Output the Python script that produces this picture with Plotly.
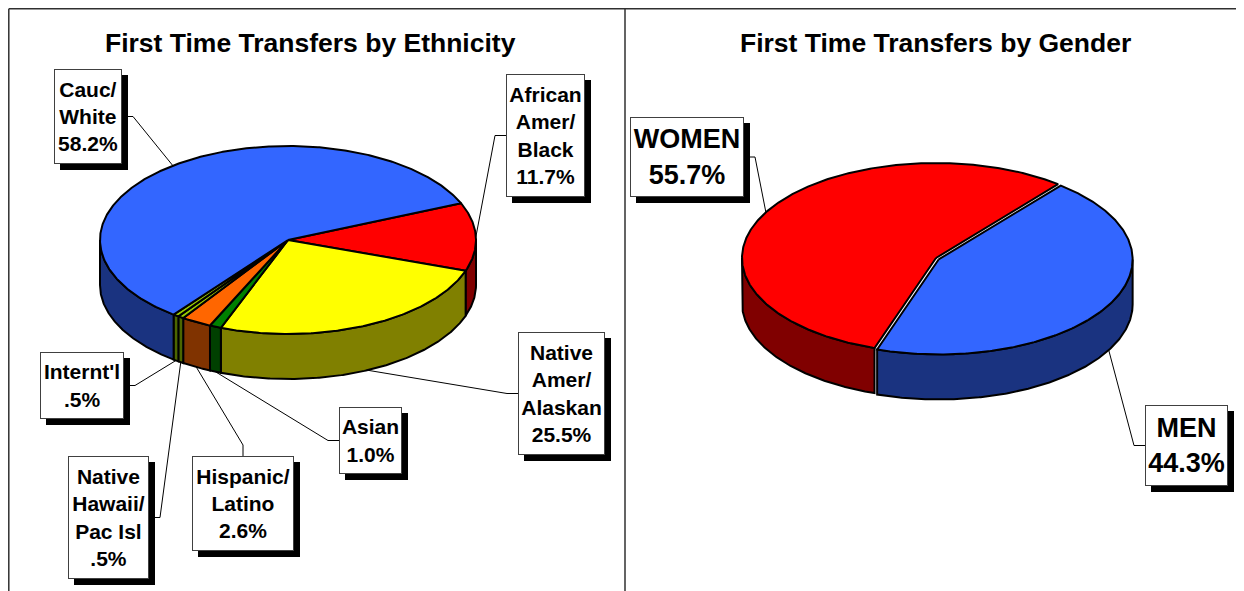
import numpy as np
import plotly.graph_objects as go

# ---------------- data ----------------
eth_names = ["African<br>Amer/<br>Black", "Native<br>Amer/<br>Alaskan", "Asian",
             "Hispanic/<br>Latino", "Native<br>Hawaii/<br>Pac Isl", "Internt'l",
             "Cauc/<br>White"]
eth_values = [11.7, 25.5, 1.0, 2.6, 0.5, 0.5, 58.2]
eth_top_colors = ["#FF0000", "#FFFF00", "#008000", "#FF6600", "#99CC00", "#99CC00", "#3366FF"]
eth_side_colors = ["#800000", "#808000", "#004000", "#803300", "#4C6600", "#4C6600", "#1A3380"]

gen_names = ["MEN", "WOMEN"]
gen_values = [44.3, 55.7]
gen_top_colors = ["#3366FF", "#FF0000"]
gen_side_colors = ["#1A3380", "#800000"]

eth_title = "First Time Transfers by Ethnicity"
gen_title = "First Time Transfers by Gender"

# ---------------- layout config (page pixels) ----------------
PAGE_W, PAGE_H = 1244, 591
OFF = 8  # page body margin
ETH = dict(cx=288, cy=240, a=188, b=94, h=45, theta0=23, explode=[0] * 7)
GEN = dict(cx=936, cy=258, a=194, b=95, h=45, theta0=51, explode=[3, 0])

# label boxes: x, y, w, h, anchor side
eth_boxes = [
    (506, 74, 79, 123, "left"),
    (518, 332, 87, 123, "left"),
    (339, 407, 63, 67, "left"),
    (192, 456, 102, 95, "top"),
    (68, 456, 81, 123, "right"),
    (40, 352, 84, 67, "right"),
    (54, 69, 68, 95, "right"),
]
gen_boxes = [
    (1145, 405, 83, 81, "left"),
    (630, 117, 114, 80, "right"),
]

FONT = "Liberation Sans, Arial, sans-serif"

fig = go.Figure()
shapes = []
annotations = []


def pct_text(v):
    s = f"{v:.1f}%"
    return s[1:] if s.startswith("0") else s


def add_pie(values, tops, sides, cfg):
    cx, cy, a, b, h, t0 = cfg["cx"], cfg["cy"], cfg["a"], cfg["b"], cfg["h"], cfg["theta0"]
    fr = np.array(values, dtype=float) / np.sum(values)
    cum = np.concatenate([[0.0], np.cumsum(fr)])
    side_traces, top_traces, mids, offs = [], [], [], []
    for i in range(len(values)):
        t1 = t0 - cum[i] * 360.0
        t2 = t0 - cum[i + 1] * 360.0
        m = 0.5 * (t1 + t2)
        e = cfg["explode"][i]
        dx = e * np.cos(np.radians(m))
        dy = -e * np.sin(np.radians(m))
        mids.append(m)
        offs.append((dx, dy))
        # visible side walls (front half)
        for k in range(-2, 2):
            lo = max(t2, -180 + 360 * k)
            hi = min(t1, 360 * k)
            if hi > lo:
                th = np.radians(np.linspace(hi, lo, max(3, int((hi - lo) / 0.5) + 2)))
                xs = cx + dx + a * np.cos(th)
                ys = cy + dy - b * np.sin(th)
                px = np.concatenate([xs, xs[::-1], xs[:1]])
                py = np.concatenate([ys, ys[::-1] + h, ys[:1]])
                side_traces.append(go.Scatter(
                    x=px, y=py, mode="lines", fill="toself", fillcolor=sides[i],
                    line=dict(color="black", width=2), hoverinfo="skip", showlegend=False))
        th = np.radians(np.linspace(t1, t2, max(3, int((t1 - t2) / 0.5) + 2)))
        xs = cx + dx + a * np.cos(th)
        ys = cy + dy - b * np.sin(th)
        px = np.concatenate([[cx + dx], xs, [cx + dx]])
        py = np.concatenate([[cy + dy], ys, [cy + dy]])
        top_traces.append(go.Scatter(
            x=px, y=py, mode="lines", fill="toself", fillcolor=tops[i],
            line=dict(color="black", width=2), hoverinfo="skip", showlegend=False))
    for t in side_traces + top_traces:
        fig.add_trace(t)
    return mids, offs


def add_labels(names, values, boxes, mids, offs, cfg, font_size):
    cx, cy, a, b, h = cfg["cx"], cfg["cy"], cfg["a"], cfg["b"], cfg["h"]
    for name, v, box, m, off in zip(names, values, boxes, mids, offs):
        bx, by, bw, bh, side = box
        r = np.radians(m)
        px = cx + off[0] + a * np.cos(r)
        py = cy + off[1] - b * np.sin(r)
        if np.sin(r) < -0.25:
            py += h
        if side == "left":
            ax_, ay_ = bx, by + bh / 2
            ex, ey = ax_ - 11, ay_
        elif side == "right":
            ax_, ay_ = bx + bw, by + bh / 2
            ex, ey = ax_ + 11, ay_
        else:
            ax_, ay_ = bx + bw / 2, by
            ex, ey = ax_, ay_ - 11
        fig.add_trace(go.Scatter(x=[ax_, ex, px], y=[ay_, ey, py], mode="lines",
                                 line=dict(color="black", width=1),
                                 hoverinfo="skip", showlegend=False))
        shapes.append(dict(type="rect", xref="x", yref="y", x0=bx + 6, y0=by + 6,
                           x1=bx + bw + 6, y1=by + bh + 6, fillcolor="black",
                           line=dict(width=0), layer="above"))
        txt = "<br>".join(name.split("<br>") + [pct_text(v)])
        annotations.append(dict(
            x=bx, y=by, xref="x", yref="y", xanchor="left", yanchor="top",
            width=bw - 2, height=bh - 2, borderpad=0, borderwidth=1,
            bordercolor="#404040", bgcolor="white", showarrow=False,
            align="center", valign="middle", text=txt,
            font=dict(family=FONT, size=font_size, color="black", weight="bold")))


mids_e, offs_e = add_pie(eth_values, eth_top_colors, eth_side_colors, ETH)
mids_g, offs_g = add_pie(gen_values, gen_top_colors, gen_side_colors, GEN)
add_labels(eth_names, eth_values, eth_boxes, mids_e, offs_e, ETH, 21)
add_labels(gen_names, gen_values, gen_boxes, mids_g, offs_g, GEN, 27)

for t, x in [(eth_title, 310), (gen_title, 935)]:
    annotations.append(dict(x=x, y=43, xref="x", yref="y", xanchor="center", yanchor="middle",
                            text=t, showarrow=False,
                            font=dict(family=FONT, size=26.5, color="black", weight="bold")))

frame_col = "#303030"
e = OFF + 0.8
shapes += [
    dict(type="line", xref="x", yref="y", x0=e, y0=e, x1=PAGE_W, y1=e, line=dict(color=frame_col, width=1.5)),
    dict(type="line", xref="x", yref="y", x0=e, y0=e, x1=e, y1=PAGE_H, line=dict(color=frame_col, width=1.5)),
    dict(type="line", xref="x", yref="y", x0=625, y0=e, x1=625, y1=PAGE_H, line=dict(color=frame_col, width=1.5)),
]

fig.update_layout(
    width=PAGE_W - OFF, height=PAGE_H - OFF, autosize=False,
    margin=dict(l=0, r=0, t=0, b=0),
    paper_bgcolor="white", plot_bgcolor="white",
    xaxis=dict(range=[OFF, PAGE_W], visible=False, fixedrange=True),
    yaxis=dict(range=[PAGE_H, OFF], visible=False, fixedrange=True),
    shapes=shapes, annotations=annotations, showlegend=False,
)

fig.write_html("out.html")
